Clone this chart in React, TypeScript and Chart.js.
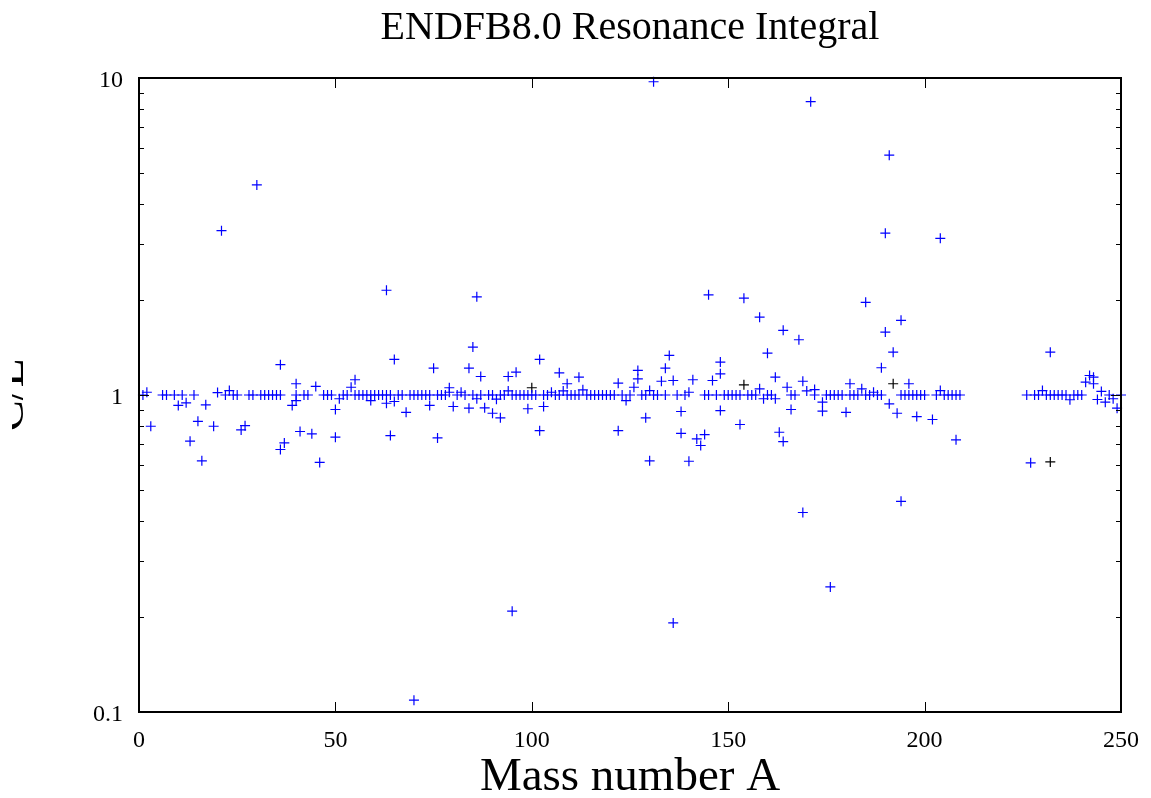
import React, { useEffect, useRef } from "react";
import { Chart, registerables } from "chart.js";

Chart.register(...registerables);

// ---- data ----
const massNumber = [
  1, 2, 3, 6, 7, 9, 10, 11, 12, 13, 14, 15, 16, 17, 19, 20, 21, 22, 23, 24, 25, 26, 27, 28, 29, 30,
  31, 32, 33, 34, 35, 36, 36, 36, 37, 39, 40, 40, 40, 41, 42, 43, 44, 45, 46, 47, 48, 49, 50, 50,
  51, 52, 53, 54, 55, 55, 56, 57, 58, 59, 59, 60, 61, 62, 63, 63, 63, 64, 64, 65, 65, 66, 67, 68,
  69, 70, 70, 71, 72, 73, 74, 74, 75, 76, 76, 77, 78, 79, 79, 80, 81, 82, 83, 84, 84, 85, 85, 86,
  86, 87, 87, 88, 89, 90, 90, 91, 92, 92, 93, 94, 94, 95, 95, 96, 96, 97, 98, 99, 99, 100, 101,
  102, 102, 103, 103, 104, 105, 106, 107, 107, 108, 109, 109, 110, 111, 112, 112, 113, 114, 115,
  116, 117, 118, 119, 120, 121, 122, 122, 123, 124, 125, 126, 127, 127, 128, 129, 129, 130, 130,
  131, 131, 132, 133, 134, 134, 135, 136, 136, 137, 138, 138, 139, 140, 140, 141, 142, 143, 144,
  144, 145, 145, 146, 147, 148, 148, 148, 149, 150, 151, 152, 153, 153, 154, 155, 156, 157, 158,
  158, 159, 160, 160, 161, 162, 162, 163, 164, 164, 165, 166, 166, 167, 168, 169, 169, 170, 171,
  172, 172, 174, 174, 175, 176, 176, 177, 178, 179, 180, 181, 181, 182, 183, 184, 185, 185, 186,
  187, 188, 189, 189, 190, 190, 191, 191, 192, 193, 194, 194, 194, 195, 196, 196, 197, 198, 198,
  199, 200, 202, 203, 204, 204, 205, 206, 207, 208, 208, 209, 226, 227, 228, 229, 230, 231, 232,
  232, 233, 234, 235, 236, 237, 238, 239, 240, 241, 242, 243, 243, 244, 245, 246, 247, 248, 249, 250,
];

const ratioCE = [
  1, 1.02, 0.797, 1, 1, 1, 0.927, 1, 0.945, 0.715, 1, 0.826, 0.62, 0.931, 0.797, 1.018, 3.3, 1, 1.033, 1, 1, 0.776, 0.8, 1, 1, 4.6,
  1, 1, 1, 1, 1, 1, 1.246, 0.673, 0.706, 0.927, 1, 0.96, 1.085, 0.767, 1, 1, 0.754, 1.064, 0.613, 1, 1, 1, 0.9, 0.736,
  0.973, 1, 1, 1.058, 1.117, 1, 1, 1, 1, 0.96, 1, 1, 1, 1, 1, 0.942, 2.14, 1, 0.745, 1.295, 0.954, 1, 1, 0.882,
  1, 0.109, 1, 1, 1, 1, 0.927, 1, 1.215, 0.732, 1, 1, 1, 1.054, 1.02, 0.92, 1, 1.02, 1, 1.215, 0.909, 1.416, 1, 2.04,
  0.973, 1.144, 1, 0.911, 1, 0.876, 1, 0.97, 0.847, 1, 1, 1.144, 1.03, 0.208, 1, 1.18, 1, 1, 1, 0.905, 1, 1, 1,
  1.295, 0.772, 0.92, 1, 1, 1.02, 1, 1.175, 1, 1.03, 1.085, 1, 1, 1, 1.138, 1, 1.038, 1, 1,
  1, 1, 1, 1, 1, 1, 0.772, 1.09, 1, 0.96, 1, 1.058, 1.195, 1.125, 1, 0.847, 1, 1.033, 0.62,
  9.73, 1, 1, 1.105, 1.215, 1, 1.333, 1.111, 0.191, 1, 0.887, 0.757, 1, 1.02, 0.618, 1.117, 0.727, 0.693, 0.75,
  1, 2.07, 1, 1.111, 1, 1.27, 1.166, 0.893, 1, 1, 1, 1, 0.807, 1, 2.02, 1, 1, 1, 1.046,
  1.76, 0.973, 1.355, 1, 1, 1.138, 0.973, 0.763, 0.713, 1.6, 1.058, 0.9, 1, 1, 1.494, 1.105, 0.426, 1.03, 8.42,
  1.04, 1, 0.949, 0.889, 1, 0.248, 1, 1, 1, 1, 0.882, 1.085, 1, 1, 1, 1.046, 1.96, 1, 1,
  1.02, 1, 1.219, 1, 3.24, 1.58, 5.71, 0.938, 1.365, 0.876, 1.72, 0.462, 1, 1, 1.085, 1, 1, 0.855, 1,
  1, 1, 0.837, 1, 3.12, 1.033, 1, 1, 1, 0.722, 1, 1, 1, 0.611, 1, 1, 1.033, 1, 1.365,
  1, 1, 1, 1, 1, 0.966, 1, 1, 1, 1.098, 1.152, 1.138, 1.085, 0.968, 1.026, 0.949, 1, 0.973, 0.909, 1,
];

const massNumberAlt = [100, 154, 192, 232];
const ratioAlt = [1.054, 1.077, 1.085, 0.615];

const xTickValues = [0, 50, 100, 150, 200, 250];
const yTickValues = [0.1, 1, 10];
const yMinorValues = [0.2, 0.3, 0.4, 0.5, 0.6, 0.7, 0.8, 0.9, 2, 3, 4, 5, 6, 7, 8, 9];

const titleText = "ENDFB8.0 Resonance Integral";
const xTitleText = "Mass number A";
const yTitleText = "C/E";

const SERIF = '"Liberation Serif", "Times New Roman", serif';

const framePlugin = {
  id: "gnuplotFrame",
  afterDraw(chart: any) {
    const { ctx, chartArea } = chart;
    const { left, right, top, bottom } = chartArea;
    const xs = chart.scales.x;
    const ys = chart.scales.y;
    ctx.save();

    // ticks (inward, mirrored)
    ctx.strokeStyle = "#000";
    ctx.lineWidth = 1;
    ctx.beginPath();
    xTickValues.forEach((v) => {
      const px = Math.round(xs.getPixelForValue(v)) + 0.5;
      ctx.moveTo(px, bottom);
      ctx.lineTo(px, bottom - 10);
      ctx.moveTo(px, top);
      ctx.lineTo(px, top + 10);
    });
    yTickValues.forEach((v) => {
      const py = Math.round(ys.getPixelForValue(v)) + 0.5;
      ctx.moveTo(left, py);
      ctx.lineTo(left + 10, py);
      ctx.moveTo(right, py);
      ctx.lineTo(right - 10, py);
    });
    yMinorValues.forEach((v) => {
      const py = Math.round(ys.getPixelForValue(v)) + 0.5;
      ctx.moveTo(left, py);
      ctx.lineTo(left + 5, py);
      ctx.moveTo(right, py);
      ctx.lineTo(right - 5, py);
    });
    ctx.stroke();

    // border
    ctx.lineWidth = 2;
    ctx.strokeRect(left, top, right - left, bottom - top);

    // tick labels
    ctx.fillStyle = "#000";
    ctx.font = `24px ${SERIF}`;
    ctx.textAlign = "center";
    ctx.textBaseline = "alphabetic";
    xTickValues.forEach((v) => {
      ctx.fillText(String(v), xs.getPixelForValue(v), 747);
    });
    ctx.textAlign = "right";
    yTickValues.forEach((v) => {
      ctx.fillText(String(v), left - 16, ys.getPixelForValue(v) + 9);
    });

    // title
    ctx.textAlign = "center";
    ctx.font = `40px ${SERIF}`;
    ctx.fillText(titleText, (left + right) / 2, 39);

    // x axis title
    ctx.font = `47px ${SERIF}`;
    ctx.fillText(xTitleText, (left + right) / 2, 790);

    // y axis title (rotated, clipped by the page edge as in the original)
    ctx.save();
    ctx.beginPath();
    ctx.rect(12, 0, 200, 798);
    ctx.clip();
    ctx.translate(23, (top + bottom) / 2);
    ctx.rotate(-Math.PI / 2);
    ctx.textAlign = "center";
    ctx.fillText(yTitleText, 0, 0);
    ctx.restore();

    ctx.restore();
  },
};

export default function App() {
  const canvasRef = useRef<HTMLCanvasElement | null>(null);

  useEffect(() => {
    document.body.style.margin = "0";
    const canvas = canvasRef.current;
    if (!canvas) return;
    const chart = new Chart(canvas, {
      type: "scatter",
      data: {
        datasets: [
          {
            label: "ENDF/B-VIII.0",
            data: massNumber.map((a, i) => ({ x: a, y: ratioCE[i] })),
            pointStyle: "cross",
            pointRadius: 5,
            pointBorderWidth: 1.2,
            borderColor: "rgb(0,0,255)",
            backgroundColor: "rgb(0,0,255)",
            clip: false,
          } as any,
          {
            label: "reference",
            data: massNumberAlt.map((a, i) => ({ x: a, y: ratioAlt[i] })),
            pointStyle: "cross",
            pointRadius: 5,
            pointBorderWidth: 1.2,
            borderColor: "#000",
            backgroundColor: "#000",
            clip: false,
          } as any,
        ],
      },
      options: {
        animation: false,
        responsive: false,
        events: [],
        layout: { padding: { left: 139, right: 30, top: 78, bottom: 86 } },
        plugins: {
          legend: { display: false },
          title: { display: false },
          tooltip: { enabled: false },
        },
        scales: {
          x: {
            type: "linear",
            min: 0,
            max: 250,
            grid: { display: false, drawTicks: false },
            border: { display: false },
            ticks: { display: false, stepSize: 50 },
            afterFit: (s: any) => {
              s.height = 0;
            },
          },
          y: {
            type: "logarithmic",
            min: 0.1,
            max: 10,
            grid: { display: false, drawTicks: false },
            border: { display: false },
            ticks: { display: false },
            afterFit: (s: any) => {
              s.width = 0;
            },
          },
        },
      },
      plugins: [framePlugin],
    });
    return () => chart.destroy();
  }, []);

  return (
    <div style={{ position: "absolute", left: 0, top: 0, width: 1151, height: 798, background: "#fff" }}>
      <canvas ref={canvasRef} width={1151} height={798} style={{ display: "block" }} />
    </div>
  );
}
